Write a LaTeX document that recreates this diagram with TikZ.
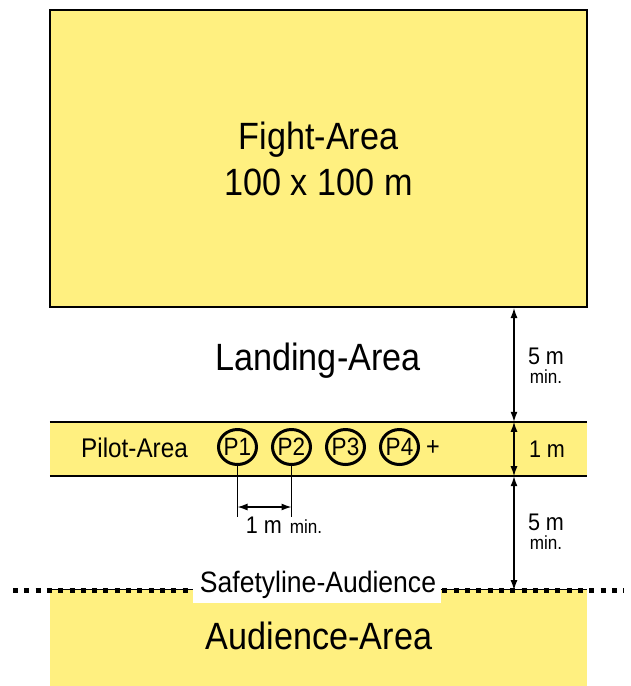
\documentclass[tikz,border=0pt]{standalone}
\usepackage{fontspec}
\setmainfont{Liberation Sans}[FakeStretch=0.9]
\usetikzlibrary{arrows.meta,shapes.geometric}
\definecolor{areayellow}{RGB}{255,240,128}
\tikzset{
  big/.style={font=\fontsize{38}{46}\selectfont, align=center, inner sep=0pt},
  mid/.style={font=\fontsize{24}{28}\selectfont, inner sep=0pt},
  small/.style={font=\fontsize{19}{21}\selectfont, inner sep=0pt},
  pilot/.style={draw, line width=3pt, ellipse, minimum width=38pt, minimum height=35pt, inner sep=0pt, font=\fontsize{25}{28}\selectfont},
  dim/.style={line width=1.3pt, {Latex[length=10pt,width=7pt]}-{Latex[length=10pt,width=7pt]}},
  thin/.style={line width=1.3pt},
}
\begin{document}
\begin{tikzpicture}[x=1pt,y=-1pt]
\useasboundingbox (0,0) rectangle (630,686);
% fight area
\node[draw, line width=2pt, fill=areayellow, minimum width=537pt, minimum height=297pt, inner sep=0pt] (fight) at (318.5,158.5) {};
\node[big] (fighttext) at (fight.center) {Fight-Area\\100 x 100 m};
% landing
\node[big] (landing) at (318,361) {Landing-Area};
% pilot strip
\node[fill=areayellow, minimum width=537pt, minimum height=54pt, inner sep=0pt] (strip) at (318.5,449) {};
\draw[line width=2.5pt] (strip.north west) -- (strip.north east);
\draw[line width=2.5pt] (strip.south west) -- (strip.south east);
\node[font=\fontsize{27}{30}\selectfont, inner sep=0pt] (pilotarea) at (134.5,448) {Pilot-Area};
\node[pilot] (p1) at (237.5,447) {\makebox[0pt]{P1}};
\node[pilot] (p2) at (291.5,447) {\makebox[0pt]{P2}};
\node[pilot] (p3) at (345.5,447) {\makebox[0pt]{P3}};
\node[pilot] (p4) at (399.5,447) {\makebox[0pt]{P4}};
\node[font=\fontsize{26}{28}\selectfont, inner sep=0pt] (plus) at (433,448) {+};
% 1 m min between pilots
\coordinate (l1) at (237.5,517);
\coordinate (l2) at (291.5,517);
\draw[thin] (p1.south) -- (l1);
\draw[thin] (p2.south) -- (l2);
\coordinate (a1) at (237.5,507);
\coordinate (a2) at (291.5,507);
\draw[dim] (a1) -- (a2);
\node[mid] (onem) at (264,525) {1 m};
\node[small] (onemin) at (306,527) {min.};
% audience
\node[fill=areayellow, minimum width=537pt, minimum height=96pt, inner sep=0pt] (aud) at (318.5,638) {};
\draw[line width=1pt] (aud.north west) -- (aud.north east);
\coordinate (sl) at (13,590);
\coordinate (sr) at (624,590);
\draw[line width=5pt, dash pattern=on 5pt off 6.3pt] (sl) -- (sr);
\node[fill=white, minimum width=248pt, minimum height=33pt, inner sep=0pt] (safebox) at (317,586.5) {};
\node[font=\fontsize{29.5}{32}\selectfont, inner sep=0pt] (safety) at (318,584.5) {Safetyline-Audience};
\node[big] (audtext) at (319,636) {Audience-Area};
% dimension arrows on the right
\coordinate (ax) at (514,0);
\draw[dim] (ax |- fight.south) -- (ax |- strip.north);
\draw[dim] (ax |- strip.north) -- (ax |- strip.south);
\draw[dim] (ax |- strip.south) -- (ax |- sl);
\node[mid] (fm1) at (546,356) {5 m};
\node[small] (min1) at (546,377) {min.};
\node[mid] (onem2) at (547,449) {1 m};
\node[mid] (fm2) at (546,522) {5 m};
\node[small] (min2) at (546,543) {min.};
\end{tikzpicture}
\end{document}
